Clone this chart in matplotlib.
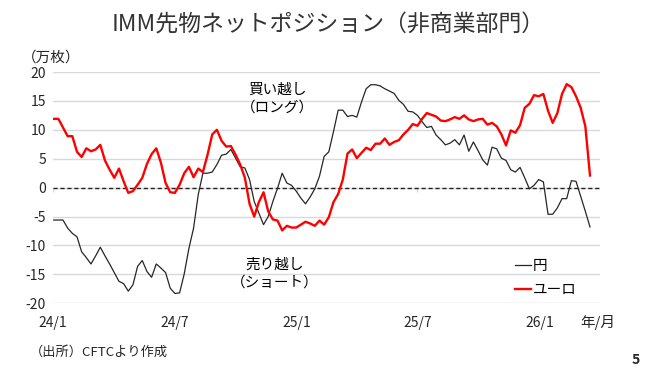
import matplotlib
matplotlib.use("Agg")
import matplotlib.pyplot as plt
import numpy as np
import pandas as pd
import matplotlib.dates as mdates

plt.rcParams['font.family'] = ['Noto Sans CJK JP', 'DejaVu Sans']

# weekly CFTC report dates
dates = pd.date_range("2024-01-02", periods=116, freq="7D")

yen = [-5.6, -5.6, -5.6, -7.0, -7.9, -8.5, -11.1, -12.1, -13.2, -11.8,
       -10.3, -11.8, -13.2, -14.7, -16.2, -16.6, -17.9, -16.8, -13.6, -12.6,
       -14.5, -15.5, -13.2, -13.9, -14.7, -17.4, -18.3, -18.2, -14.9, -10.5,
       -7.0, -1.2, 2.5, 2.5, 2.7, 4.0, 5.6, 5.8, 6.6, 5.1,
       3.6, 3.4, 1.4, -2.4, -4.4, -6.4, -5.0, -2.4, -0.1, 2.5,
       0.8, 0.4, -0.6, -1.8, -2.8, -1.6, -0.2, 2.0, 5.4, 6.2,
       9.7, 13.4, 13.4, 12.3, 12.5, 12.2, 14.8, 17.1, 17.8, 17.8,
       17.6, 17.1, 16.7, 16.3, 15.1, 14.4, 13.2, 13.1, 12.5, 11.4,
       10.4, 10.6, 9.1, 8.3, 7.4, 7.7, 8.3, 7.4, 9.1, 6.3,
       7.9, 6.4, 4.8, 3.9, 7.0, 6.7, 5.1, 4.7, 3.1, 2.7,
       3.5, 1.7, -0.2, 0.4, 1.4, 1.0, -4.6, -4.6, -3.5, -1.9,
       -1.9, 1.2, 1.1, -1.5, -4.1, -6.8]

euro = [11.9, 11.9, 10.4, 8.9, 8.9, 6.2, 5.3, 6.8, 6.3, 6.6,
        7.4, 4.7, 3.1, 1.7, 3.3, 1.1, -0.9, -0.6, 0.5, 1.7,
        4.1, 5.8, 6.8, 4.3, 0.8, -0.8, -0.9, 0.5, 2.5, 3.6,
        1.8, 3.3, 2.7, 5.7, 9.2, 10.0, 8.1, 7.1, 7.2, 5.7,
        4.0, 1.7, -2.8, -5.0, -2.5, -0.8, -4.1, -5.5, -5.7, -7.4,
        -6.6, -6.9, -6.9, -6.4, -5.9, -6.2, -6.6, -5.7, -6.4, -5.1,
        -2.5, -1.1, 1.4, 5.9, 6.6, 5.1, 6.0, 6.9, 6.5, 7.6,
        7.6, 8.5, 7.4, 7.9, 8.2, 9.2, 10.0, 11.0, 10.7, 11.9,
        12.9, 12.6, 12.3, 11.6, 11.5, 11.8, 12.2, 11.9, 12.5, 11.8,
        11.5, 11.8, 11.9, 10.9, 11.2, 10.6, 9.2, 7.3, 9.9, 9.5,
        10.8, 13.8, 14.5, 16.0, 15.8, 16.2, 13.3, 11.2, 12.9, 16.2,
        17.9, 17.4, 15.8, 13.8, 10.6, 2.1]

tick_dates = pd.to_datetime(["2024-01-01", "2024-07-01", "2025-01-01", "2025-07-01", "2026-01-01"])
tick_labels = ["24/1", "24/7", "25/1", "25/7", "26/1"]
y_ticks = [-20, -15, -10, -5, 0, 5, 10, 15, 20]

fig = plt.figure(figsize=(6.5, 3.73), dpi=100)
ax = fig.add_axes([53/650, 1-303.3/373, 547/650, 231.3/373])

ax.set_ylim(-20, 20)
ax.set_xlim(pd.Timestamp("2024-01-01"), pd.Timestamp("2026-04-01"))
ax.set_yticks(y_ticks)
ax.set_yticklabels([str(v) for v in y_ticks])
ax.set_xticks(tick_dates)
ax.set_xticklabels(tick_labels)
ax.tick_params(axis='y', length=0, pad=5, labelsize=10, labelcolor='#262626')
ax.tick_params(axis='x', length=0, pad=9, labelsize=10, labelcolor='#262626')
for s in ax.spines.values():
    s.set_visible(False)
ax.grid(axis='y', color='#d9d9d9', lw=1.0)
ax.set_axisbelow(True)

ax.vlines(tick_dates, -0.7, 0, color='#d9d9d9', lw=1.0, zorder=1)
ax.axhline(0, color='#222222', lw=1.0, ls=(0, (3, 2)), zorder=2)

ax.plot(dates, yen, color='#262626', lw=0.9, label='円', zorder=3)
ax.plot(dates, euro, color='#ff0000', lw=1.7, label='ユーロ', zorder=4)

leg = ax.legend(loc='upper left', bbox_to_anchor=((515-53)/547, (303.3-259)/231.3),
                frameon=False, fontsize=10.5, handlelength=1.1, handletextpad=0.1,
                labelspacing=0.7, borderpad=0, borderaxespad=0)

ax.text(0.411, 0.922, "買い越し", transform=ax.transAxes, ha='center', va='center', fontsize=10.5, color='#000000')
ax.text(0.411, 0.844, "（ロング）", transform=ax.transAxes, ha='center', va='center', fontsize=10.5, color='#000000')
ax.text(0.405, 0.166, "売り越し", transform=ax.transAxes, ha='center', va='center', fontsize=10.5, color='#000000')
ax.text(0.405, 0.088, "（ショート）", transform=ax.transAxes, ha='center', va='center', fontsize=10.5, color='#000000')

fig.text(0.505, 1-25/373, "IMM先物ネットポジション（非商業部門）", ha='center', va='center', fontsize=16.5, color='#333333')
fig.text(22/650, 1-58/373, "（万枚）", ha='left', va='center', fontsize=10.5, color='#262626')
fig.text(598/650, 1-323/373, "年/月", ha='center', va='center', fontsize=10.5, color='#262626')
fig.text(30/650, 1-352/373, "（出所）CFTCより作成", ha='left', va='center', fontsize=9.5, color='#262626')
fig.text(636/650, 1-360/373, "5", ha='center', va='center', fontsize=10, fontweight='bold', color='#262626')

fig.savefig("out.png", dpi=100)
